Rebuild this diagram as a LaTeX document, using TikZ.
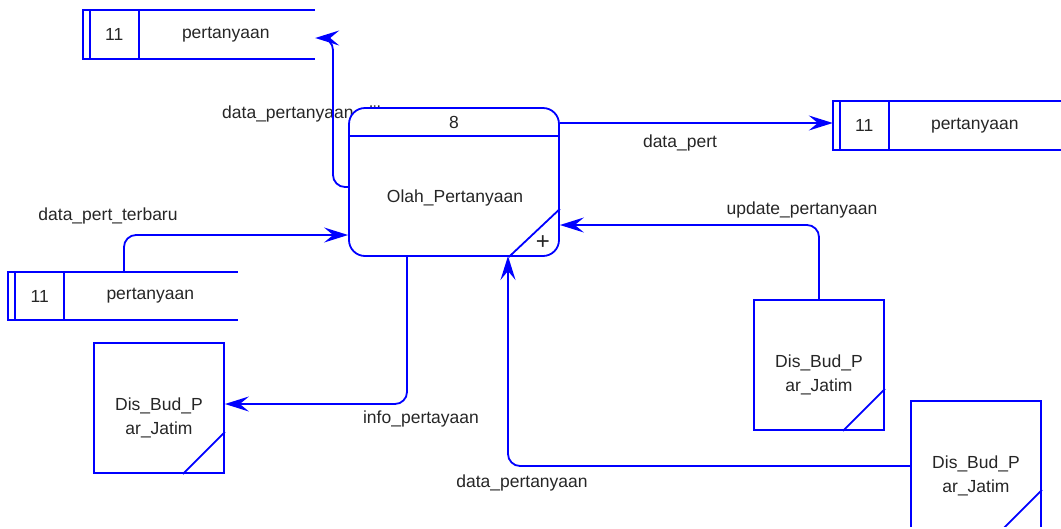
\documentclass[tikz,border=0pt]{standalone}
\usepackage{fontspec}
\setmainfont{Liberation Sans}
\usetikzlibrary{arrows.meta}
\definecolor{dfd}{RGB}{0,0,255}
\tikzset{
  every node/.style={font=\fontsize{17.5}{20}\selectfont, text=black!85},
  lineb/.style={draw=dfd, line width=1.8pt},
  flow/.style={lineb, rounded corners=12pt, -{Stealth[length=24pt,width=15pt,inset=9pt]}},
  storebox/.style={minimum width=#1, minimum height=48pt, inner sep=0pt},
  entity/.style={draw=dfd, line width=1.8pt, minimum width=130pt, minimum height=130pt, inner sep=0pt, fill=white},
  proc/.style={draw=dfd, line width=1.8pt, rounded corners=16pt, minimum width=210pt, minimum height=148pt, inner sep=0pt, fill=white},
  lbl/.style={inner sep=1pt}
}
\begin{document}
\begin{tikzpicture}[x=1pt,y=-1pt]
\useasboundingbox (0,0) rectangle (1061,528);

% ---- data stores (open-ended rectangles) ----
\node[storebox=232pt] (s1) at (199,34.5) {};
\node[storebox=228pt] (s2) at (947,125.5) {};
\node[storebox=229pt] (s3) at (123,296) {};
\foreach \s in {s1,s2,s3}{
  \draw[lineb] (\s.north east) -- (\s.north west) -- (\s.south west) -- (\s.south east);
  \draw[lineb] ([xshift=7pt]\s.north west) -- ([xshift=7pt]\s.south west);
  \draw[lineb] ([xshift=56pt]\s.north west) -- ([xshift=56pt]\s.south west);
  \node at ([xshift=31.5pt]\s.west) {11};
}
\node at ([xshift=143pt]s1.west) {pertanyaan};
\node at ([xshift=142pt]s2.west) {pertanyaan};
\node at ([xshift=142pt]s3.west) {pertanyaan};

% hidden label (behind process box)
\node[lbl, anchor=west] (l1) at (221,114) {data\_pertanyaan\_dihapus};

% ---- process ----
\node[proc] (p) at (454,182) {};
\draw[lineb] ([yshift=-29pt]p.north west) -- ([yshift=-29pt]p.north east);
\draw[lineb] ([yshift=48pt]p.south east) -- ([xshift=-51pt]p.south east);
\node at (454,122) {8};
\node at (455,198) {Olah\_Pertanyaan};
\node[font=\fontsize{24}{24}\selectfont] at (543,243) {+};

% ---- external entities ----
\node[entity] (e1) at (159,408) {};
\node[entity] (e2) at (819,365) {};
\node[entity] (e3) at (976,466) {};
\foreach \e in {e1,e2,e3}{
  \draw[lineb] ([yshift=42pt]\e.south east) -- ([xshift=-42pt]\e.south east);
  \node[align=center, font=\fontsize{17.5}{24}\selectfont] at ([yshift=-10pt]\e.center) {Dis\_Bud\_P\\ar\_Jatim};
}
\draw[white, line width=3pt] (905,528.5) -- (1050,528.5);

% ---- flows ----
\draw[flow] (p.west |- 0,187) -| (333,38) -- (s1.east |- 0,38);
\draw[flow, rounded corners=0pt] (p.east |- 0,123) -- (s2.west |- 0,123);
\node[lbl] at (680,143) {data\_pert};
\draw[flow] (124,271) |- (p.west |- 0,235);
\node[lbl] at (108,216) {data\_pert\_terbaru};
\draw[flow] (407,256) |- (e1.east |- 0,404);
\node[lbl] at (421,419) {info\_pertayaan};
\draw[flow] (e2.north) |- (p.east |- 0,225);
\node[lbl] at (802,210) {update\_pertanyaan};
\draw[flow] (e3.west |- 0,466) -| (508,256);
\node[lbl] at (522,483) {data\_pertanyaan};
\end{tikzpicture}
\end{document}
